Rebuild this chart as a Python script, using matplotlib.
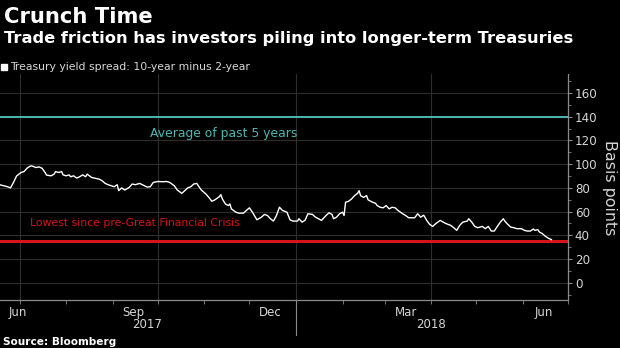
import numpy as np
import pandas as pd
import matplotlib
matplotlib.use('Agg')
import matplotlib.pyplot as plt
import matplotlib.dates as mdates
import matplotlib.transforms as mtransforms
from matplotlib.lines import Line2D

# 10-year minus 2-year Treasury spread, basis points
dates = ['2017-06-18', '2017-06-23', '2017-06-25', '2017-06-27', '2017-06-29', '2017-07-02',
         '2017-07-04', '2017-07-06', '2017-07-08', '2017-07-09', '2017-07-12', '2017-07-14',
         '2017-07-16', '2017-07-18', '2017-07-19', '2017-07-22', '2017-07-24', '2017-07-25',
         '2017-07-27', '2017-07-29', '2017-07-30', '2017-08-01', '2017-08-03', '2017-08-04',
         '2017-08-06', '2017-08-08', '2017-08-10', '2017-08-12', '2017-08-14', '2017-08-15',
         '2017-08-18', '2017-08-21', '2017-08-23', '2017-08-25', '2017-08-27', '2017-08-29',
         '2017-09-02', '2017-09-04', '2017-09-05', '2017-09-07', '2017-09-09', '2017-09-12',
         '2017-09-14', '2017-09-16', '2017-09-19', '2017-09-21', '2017-09-24', '2017-09-26',
         '2017-09-28', '2017-10-01', '2017-10-04', '2017-10-07', '2017-10-09', '2017-10-12',
         '2017-10-14', '2017-10-17', '2017-10-19', '2017-10-21', '2017-10-23', '2017-10-25',
         '2017-10-27', '2017-10-28', '2017-10-30', '2017-11-02', '2017-11-04', '2017-11-06',
         '2017-11-08', '2017-11-11', '2017-11-12', '2017-11-13', '2017-11-15', '2017-11-17',
         '2017-11-18', '2017-11-19', '2017-11-22', '2017-11-24', '2017-11-27', '2017-11-29',
         '2017-12-01', '2017-12-03', '2017-12-05', '2017-12-06', '2017-12-09', '2017-12-11',
         '2017-12-13', '2017-12-15', '2017-12-17', '2017-12-19', '2017-12-21', '2017-12-23',
         '2017-12-26', '2017-12-28', '2017-12-30', '2018-01-02', '2018-01-03', '2018-01-05',
         '2018-01-07', '2018-01-09', '2018-01-12', '2018-01-14', '2018-01-16', '2018-01-18',
         '2018-01-21', '2018-01-23', '2018-01-25', '2018-01-26', '2018-01-28', '2018-01-30',
         '2018-02-01', '2018-02-02', '2018-02-03', '2018-02-05', '2018-02-07', '2018-02-09',
         '2018-02-11', '2018-02-12', '2018-02-13', '2018-02-15', '2018-02-17', '2018-02-18',
         '2018-02-21', '2018-02-23', '2018-02-24', '2018-02-26', '2018-02-28', '2018-03-02',
         '2018-03-04', '2018-03-06', '2018-03-08', '2018-03-10', '2018-03-13', '2018-03-15',
         '2018-03-17', '2018-03-19', '2018-03-21', '2018-03-23', '2018-03-25', '2018-03-27',
         '2018-03-29', '2018-03-31', '2018-04-02', '2018-04-04', '2018-04-07', '2018-04-09',
         '2018-04-11', '2018-04-14', '2018-04-16', '2018-04-18', '2018-04-20', '2018-04-22',
         '2018-04-25', '2018-04-26', '2018-04-28', '2018-04-30', '2018-05-02', '2018-05-05',
         '2018-05-07', '2018-05-09', '2018-05-11', '2018-05-13', '2018-05-15', '2018-05-17',
         '2018-05-19', '2018-05-20', '2018-05-22', '2018-05-24', '2018-05-26', '2018-05-28',
         '2018-05-31', '2018-06-02', '2018-06-04', '2018-06-06', '2018-06-08', '2018-06-09',
         '2018-06-11', '2018-06-12', '2018-06-14', '2018-06-16', '2018-06-18', '2018-06-20']
spread = [82.6, 81.0, 80.0, 84.6, 90.0, 93.0,
          93.8, 96.6, 98.3, 98.6, 97.2, 97.7,
          96.6, 93.0, 90.8, 90.2, 91.6, 93.8,
          93.0, 93.8, 91.0, 90.2, 91.0, 89.4,
          90.2, 88.3, 89.4, 91.0, 89.4, 91.6,
          88.8, 88.0, 87.4, 86.0, 83.8, 82.7,
          81.0, 82.7, 77.7, 80.0, 78.2, 80.4,
          83.3, 82.7, 83.8, 82.5, 80.7, 81.0,
          84.6, 85.4, 85.2, 85.4, 84.6, 81.8,
          78.2, 75.4, 77.7, 80.0, 81.0, 83.3,
          83.8, 81.8, 78.2, 74.9, 72.0, 68.7,
          69.9, 72.6, 74.3, 70.7, 66.5, 65.1,
          66.5, 62.3, 59.5, 58.7, 58.7, 60.9,
          63.2, 59.5, 55.3, 53.1, 55.3, 57.6,
          56.7, 54.0, 52.0, 56.7, 63.7, 61.0,
          59.5, 53.1, 52.0, 52.0, 54.0, 51.1,
          52.6, 58.2, 57.6, 55.3, 54.0, 52.6,
          56.7, 59.0, 57.6, 54.0, 55.3, 58.2,
          59.5, 56.7, 67.9, 68.7, 70.7, 73.5,
          75.4, 77.7, 73.5, 72.0, 73.5, 69.9,
          67.9, 67.0, 65.1, 63.7, 63.2, 65.1,
          62.3, 63.7, 63.2, 60.9, 58.2, 56.7,
          54.8, 54.8, 54.8, 58.2, 55.3, 57.0,
          52.6, 49.2, 47.5, 49.8, 52.6, 51.1,
          49.8, 48.4, 46.4, 44.2, 48.4, 51.1,
          52.0, 54.0, 51.1, 47.5, 46.4, 47.5,
          45.6, 47.5, 43.6, 43.6, 47.5, 51.1,
          54.0, 52.0, 49.2, 46.9, 46.4, 45.6,
          45.6, 44.2, 43.6, 43.6, 45.3, 44.2,
          44.8, 42.8, 41.4, 39.2, 37.5, 36.4]

avg_5y = 140
lowest_pre_gfc = 35

month_labels = ['Jun', 'Sep', 'Dec', 'Mar', 'Jun']
# labels sit mid-month; the first June is clipped, so its label is nudged inside
month_label_dates = ['2017-06-30', '2017-09-15', '2017-12-15', '2018-03-15', '2018-06-15']
year_labels = ['2017', '2018']
year_label_dates = ['2017-09-24', '2018-04-01']
year_break = '2018-01-01'
quarter_grid = ['2017-07-01', '2017-10-01', '2018-01-01', '2018-04-01']

x = pd.to_datetime(dates)

bg = 'black'
fg = '#d6d6d6'
grid_c = '#2e2e2e'
axis_c = '#8a8a8a'
teal = '#4db6b0'
red = '#d7141a'

fig = plt.figure(figsize=(6.2, 3.48), dpi=100, facecolor=bg)
ax = fig.add_axes([0.0, 0.1365, 0.916, 0.6505], facecolor=bg)

ax.set_xlim(pd.Timestamp('2017-06-18'), pd.Timestamp('2018-07-01'))
ax.set_ylim(-15, 176)

# grid
ax.set_yticks(np.arange(0, 161, 20))
ax.set_yticks(np.arange(-10, 171, 10), minor=True)
ax.grid(axis='y', which='major', color=grid_c, lw=0.8)
for d in quarter_grid:
    ax.axvline(pd.Timestamp(d), color=grid_c, lw=0.8, zorder=0)

ax.axhline(avg_5y, color=teal, lw=1.4)
ax.axhline(lowest_pre_gfc, color=red, lw=2.2)
ax.plot(x, spread, color='white', lw=1.0)

ax.text(pd.Timestamp('2017-09-26'), 126, 'Average of past 5 years', color=teal,
        fontsize=8.9, va='center', ha='left')
ax.text(pd.Timestamp('2017-07-08'), 50.5, 'Lowest since pre-Great Financial Crisis',
        color=red, fontsize=7.8, va='center', ha='left')

# axes styling
for s in ['left', 'top']:
    ax.spines[s].set_visible(False)
for s in ['bottom', 'right']:
    ax.spines[s].set_color(axis_c)
    ax.spines[s].set_linewidth(0.9)

ax.yaxis.tick_right()
ax.tick_params(axis='y', which='major', colors=axis_c, labelcolor=fg, labelsize=8.6,
               length=3, pad=2)
ax.tick_params(axis='y', which='minor', colors=axis_c, length=2)

ax.xaxis.set_minor_locator(mdates.MonthLocator())
ax.set_xticks(pd.to_datetime(month_label_dates))
ax.set_xticklabels(month_labels)
ax.tick_params(axis='x', which='major', length=0, labelcolor=fg, labelsize=8.5, pad=4)
ax.tick_params(axis='x', which='minor', colors=axis_c, length=3)

trans = mtransforms.blended_transform_factory(ax.transData, ax.transAxes)
for lab, d in zip(year_labels, year_label_dates):
    ax.text(pd.Timestamp(d), -0.106, lab, transform=trans, color=fg, fontsize=8.5,
            ha='center', va='center')
ax.plot([pd.Timestamp(year_break)] * 2, [0, -0.152], transform=trans, color=axis_c,
        lw=0.8, clip_on=False)

ax.set_ylabel('Basis points', color=fg, fontsize=11.4, rotation=270, labelpad=14)
ax.yaxis.set_label_position('right')

# titles and legend
fig.text(0.006, 0.934, 'Crunch Time', color='white', fontsize=15.2, fontweight='bold')
fig.text(0.006, 0.875, 'Trade friction has investors piling into longer-term Treasuries',
         color='white', fontsize=11.7, fontweight='bold')
handle = Line2D([], [], marker='s', color='white', ls='none', ms=4.5)
fig.legend([handle], ['Treasury yield spread: 10-year minus 2-year'], loc='lower left',
           bbox_to_anchor=(0.002, 0.792), frameon=False, fontsize=7.8, labelcolor=fg,
           handlelength=0.5, handletextpad=0.35, borderpad=0, borderaxespad=0)
fig.text(0.005, 0.009, 'Source: Bloomberg', color='white', fontsize=7.6, fontweight='bold')

fig.savefig('out.png', dpi=100, facecolor=bg)
